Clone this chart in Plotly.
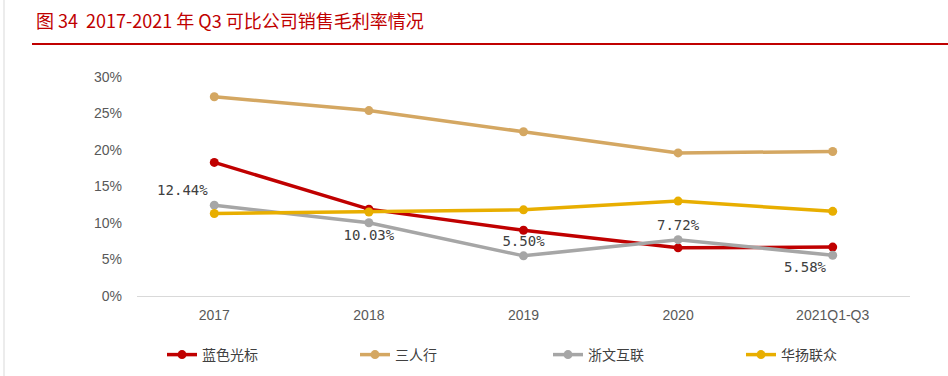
import plotly.graph_objects as go

categories = ["2017", "2018", "2019", "2020", "2021Q1-Q3"]
lanse = [18.3, 11.9, 9.0, 6.6, 6.7]
sanrenxing = [27.3, 25.4, 22.5, 19.6, 19.8]
zhewen = [12.44, 10.03, 5.50, 7.72, 5.58]
huayang = [11.3, 11.5, 11.8, 13.0, 11.6]
zhewen_labels = ["12.44%", "10.03%", "5.50%", "7.72%", "5.58%"]
zhewen_pos = ["top left", "bottom center", "top center", "top center", "bottom left"]
y_ticks = [0, 5, 10, 15, 20, 25, 30]
y_ticklabels = [f"{v}%" for v in y_ticks]

title_text = "图 34  2017-2021 年 Q3 可比公司销售毛利率情况"

series = [
    ("蓝色光标", lanse, "#c00000"),
    ("三人行", sanrenxing, "#d4a762"),
    ("浙文互联", zhewen, "#a6a6a6"),
    ("华扬联众", huayang, "#e8ae00"),
]

fig = go.Figure()
for name, vals, color in series:
    if name == "浙文互联":
        kw = dict(text=zhewen_labels, textposition=zhewen_pos,
                  textfont=dict(size=14, color="#404040", family="DejaVu Sans Mono, Liberation Mono"),
                  mode="lines+markers+text")
    else:
        kw = dict(mode="lines+markers")
    fig.add_trace(go.Scatter(
        x=categories, y=vals, name=name,
        line=dict(color=color, width=3.5),
        marker=dict(color=color, size=9),
        cliponaxis=False,
        **kw,
    ))

W, H = 948, 376
L, R, T, B = 137, 910, 77, 296

def px2x(px):
    return (px - L) / (R - L)

def py2y(py):
    return (B - py) / (B - T)

fig.update_layout(
    width=W, height=H,
    margin=dict(l=L, r=W - R, t=T, b=H - B, autoexpand=False),
    paper_bgcolor="white", plot_bgcolor="white",
    font=dict(family="Liberation Sans, Arial", color="#595959", size=13),
    title=dict(text=title_text, xref="container", yref="container",
               x=36 / W, y=1 - 22 / H, xanchor="left", yanchor="middle", automargin=False,
               font=dict(family="Noto Sans CJK SC", size=18, color="#c00000")),
    showlegend=True,
    legend=dict(orientation="h", x=px2x(162), y=py2y(355), xref="paper", yref="paper",
                xanchor="left", yanchor="middle", entrywidth=148, entrywidthmode="pixels",
                font=dict(family="Noto Sans CJK SC", size=14, color="#404040"),
                itemwidth=30, tracegroupgap=0),
    xaxis=dict(type="category", showgrid=False, showline=True, linecolor="#d9d9d9",
               linewidth=1, ticks="", tickfont=dict(size=14, color="#595959"),
               ticklabelstandoff=6, range=[-0.5, 4.5]),
    yaxis=dict(range=[0, 30], tickvals=y_ticks, ticktext=y_ticklabels, showgrid=False,
               zeroline=False, showline=False, ticks="", ticklabelstandoff=14,
               tickfont=dict(size=14, color="#595959")),
    shapes=[
        dict(type="line", xref="paper", yref="paper", x0=px2x(32), x1=px2x(948),
             y0=py2y(44), y1=py2y(44), line=dict(color="#c00000", width=2)),
        dict(type="line", xref="paper", yref="paper", x0=px2x(4), x1=px2x(4),
             y0=py2y(0), y1=py2y(376), line=dict(color="#d9d9d9", width=1)),
    ],
)

fig.write_html("out.html", config={"displayModeBar": False},
               post_script="document.body.style.margin='0';")
